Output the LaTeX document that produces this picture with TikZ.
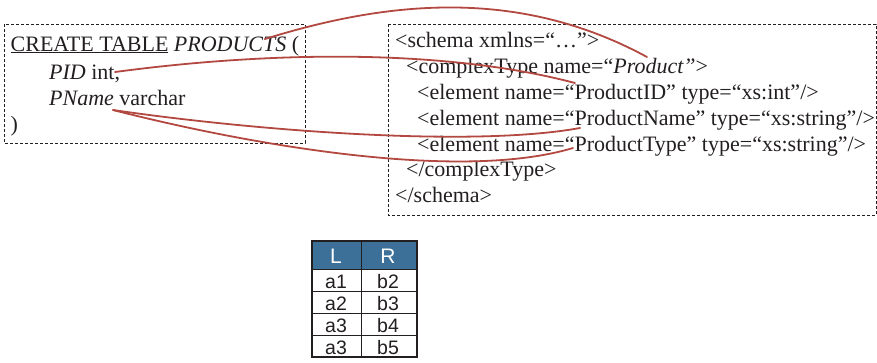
\documentclass[tikz,border=0pt]{standalone}
\usepackage{fontspec}
\setmainfont{Liberation Serif}
\newfontfamily\tablesans{Liberation Sans}
\definecolor{linkred}{RGB}{178,72,64}
\definecolor{headblue}{RGB}{60,112,152}
\definecolor{ink}{RGB}{35,31,32}
% underline with a rule of our own thickness
\newcommand\thickul[1]{\setbox0\hbox{#1}\rlap{\rule[-2.2pt]{\wd0}{1.6pt}}\box0\relax}
\begin{document}
\begin{tikzpicture}[x=1pt,y=-1pt,
  code/.style={anchor=base west, inner sep=0pt, text=ink,
               font=\fontsize{22}{26}\selectfont},
  frame/.style={draw=ink, dash pattern=on 3pt off 2pt, line width=0.8pt},
  link/.style={draw=linkred, line width=1.8pt, line cap=round},
  cell/.style={anchor=base, inner sep=0pt, text=ink,
               font=\tablesans\fontsize{19.5}{22}\selectfont},
  headcell/.style={cell, text=white, font=\tablesans\fontsize{21}{24}\selectfont},
  grid/.style={draw=ink, line width=0.8pt}]
\useasboundingbox (0,0) rectangle (877,362);

% SQL table definition
\draw[frame] (4,24) rectangle (305,143);
\node[code] (sql1) at (10.5,51) {\thickul{CREATE TABLE} \textit{PRODUCTS} (};
\node[code] (sql2) at (49,79)   {\textit{PID} int,};
\node[code] (sql3) at (49,105)  {\textit{PName} varchar};
\node[code] (sql4) at (10.5,131) {)};

% XML schema
\draw[frame] (388,24) rectangle (876,215);
\node[code] (xs1) at (395,47)   {<schema xmlns=“…”>};
\node[code] (xs2) at (406,73)   {<complexType name=“\textit{Product”}>};
\node[code] (xs3) at (417,99)   {<element name=“ProductID” type=“xs:int”/>};
\node[code] (xs4) at (417,125)  {<element name=“ProductName” type=“xs:string”/>};
\node[code] (xs5) at (417,151)  {<element name=“ProductType” type=“xs:string”/>};
\node[code] (xs6) at (406,176.5){</complexType>};
\node[code] (xs7) at (395,202)  {</schema>};

% end points of the correspondences
\coordinate (srcProducts) at (265,39);
\coordinate (srcPID)      at (115,72);
\coordinate (srcPName)    at (113,110);
\coordinate (dstProduct)  at (647,57);
\coordinate (dstID)       at (575,83);
\coordinate (dstName)     at (580,128);
\coordinate (dstType)     at (573,148);

\draw[link] (srcProducts) .. controls (390,0) and (520,-12) .. (dstProduct);
\draw[link] (srcPID) .. controls (280,50) and (450,50) .. (dstID);
\draw[link] (srcPName) .. controls (250,130) and (470,148) .. (dstName);
\draw[link] (srcPName) .. controls (250,145) and (460,182) .. (dstType);

% mapping table
\fill[headblue] (312,241) rectangle (417,269);
\draw[grid] (312,269) -- (417,269);
\draw[grid] (312,291) -- (417,291);
\draw[grid] (312,313) -- (417,313);
\draw[grid] (312,335) -- (417,335);
\draw[grid] (361,241) -- (361,357);
\draw[draw=ink, line width=2.5pt] (312,241) rectangle (417,357);

\node[headcell] (hL) at (336,263) {L};
\node[headcell] (hR) at (388,263) {R};
\node[cell] (l1) at (336,288) {a1};
\node[cell] (r1) at (388,288) {b2};
\node[cell] (l2) at (336,310) {a2};
\node[cell] (r2) at (388,310) {b3};
\node[cell] (l3) at (336,332) {a3};
\node[cell] (r3) at (388,332) {b4};
\node[cell] (l4) at (336,354) {a3};
\node[cell] (r4) at (388,354) {b5};
\end{tikzpicture}
\end{document}
